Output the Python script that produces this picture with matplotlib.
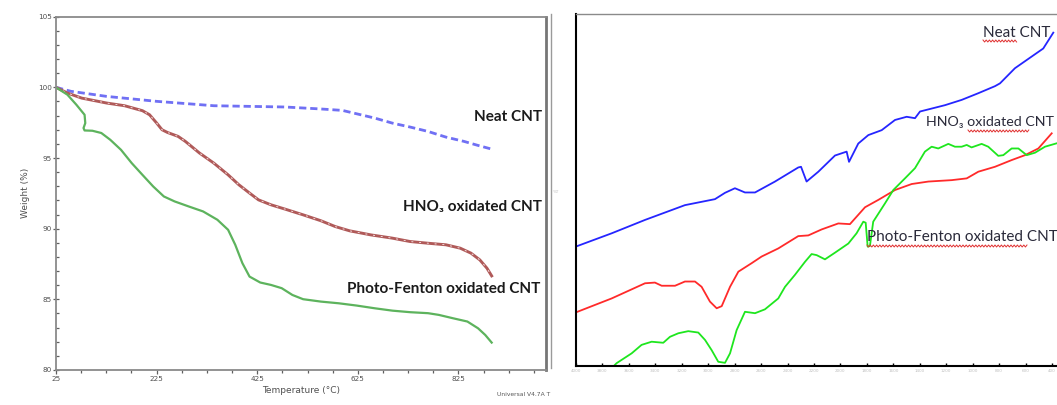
import numpy as np
import matplotlib
matplotlib.use("Agg")
import matplotlib.pyplot as plt
from matplotlib.lines import Line2D
from matplotlib.ticker import FixedLocator, MultipleLocator

# ── Left panel: TGA (weight % vs temperature) ────────────────────────────
neat_T = [25.0, 54.8, 125.8, 225.2, 338.7, 480.7, 551.7, 594.3, 622.6, 658.1,
          693.6, 729.1, 764.6, 800.1, 835.6, 864.0, 891.0]
neat_W = [100.0, 99.72, 99.36, 99.01, 98.70, 98.61, 98.47, 98.37, 98.13, 97.83,
          97.47, 97.19, 96.88, 96.48, 96.18, 95.89, 95.63]

hno3_T = [25.0, 47.7, 76.1, 125.8, 161.3, 196.8, 211.0, 225.2, 235.8, 246.5,
          267.7, 282.0, 310.3, 338.7, 367.1, 388.4, 409.7, 427.5, 452.3, 480.7,
          516.2, 551.7, 580.1, 608.5, 651.0, 693.6, 729.1, 764.6, 800.1, 828.5,
          849.8, 867.5, 881.7, 891.0]
hno3_W = [100.0, 99.60, 99.24, 98.89, 98.70, 98.35, 98.06, 97.47, 97.00, 96.81,
          96.53, 96.18, 95.35, 94.64, 93.81, 93.11, 92.52, 92.04, 91.69, 91.38,
          90.98, 90.56, 90.15, 89.85, 89.56, 89.33, 89.09, 88.97, 88.86, 88.62,
          88.27, 87.79, 87.20, 86.66]

pf_T = [25.0, 47.7, 65.5, 81.8, 83.2, 79.7, 81.8, 97.4, 115.1, 132.9, 154.2,
        175.5, 196.8, 218.1, 239.4, 260.7, 289.0, 317.4, 345.8, 367.1, 381.3,
        395.5, 409.7, 431.0, 452.3, 473.6, 494.9, 516.2, 551.7, 587.2, 622.6,
        658.1, 693.6, 729.1, 764.6, 785.9, 814.3, 842.7, 864.0, 878.2, 891.0]
pf_W = [100.0, 99.48, 98.77, 98.06, 97.47, 97.12, 96.95, 96.93, 96.77, 96.29,
        95.58, 94.64, 93.81, 92.99, 92.28, 91.93, 91.57, 91.22, 90.63, 89.92,
        88.86, 87.56, 86.61, 86.19, 86.02, 85.79, 85.31, 85.01, 84.84, 84.72,
        84.56, 84.37, 84.20, 84.09, 84.02, 83.90, 83.66, 83.43, 82.95, 82.48,
        81.94]

temp_ticks = [25, 225, 425, 625, 825]
weight_ticks = [80, 85, 90, 95, 100, 105]

# ── Right panel: FTIR (%T vs wavenumber, arbitrary offsets) ──────────────
ir_neat_wn = [4003, 3730, 3478, 3176, 2949, 2873, 2798, 2722, 2646, 2495, 2319,
              2298, 2256, 2167, 2041, 1953, 1935, 1865, 1789, 1688, 1587, 1499,
              1436, 1398, 1209, 1083, 957, 831, 793, 680, 554, 466, 390]
ir_neat_t = [33.9, 37.7, 41.5, 45.7, 47.4, 49.2, 50.5, 49.3, 49.3, 52.4, 56.4,
             56.6, 52.4, 55.2, 59.8, 60.9, 58.0, 63.2, 65.6, 67.0, 69.9, 70.8,
             70.4, 72.3, 74.1, 75.6, 77.5, 79.5, 80.3, 84.6, 87.9, 90.2, 94.7]

ir_hno3_wn = [4003, 3730, 3478, 3403, 3352, 3251, 3176, 3100, 3050, 2987, 2936,
              2898, 2835, 2772, 2672, 2596, 2470, 2319, 2243, 2142, 2016, 1928,
              1814, 1713, 1587, 1461, 1335, 1159, 1045, 957, 831, 705, 604, 503,
              402]
ir_hno3_t = [15.2, 19.2, 23.5, 23.7, 22.8, 22.8, 24.0, 24.0, 22.5, 18.3, 16.4,
             17.0, 22.5, 26.8, 29.2, 31.1, 33.4, 36.9, 37.1, 38.8, 40.5, 40.3,
             45.1, 47.2, 50.0, 51.7, 52.4, 52.8, 53.3, 55.2, 56.6, 58.5, 59.9,
             61.8, 66.1]

ir_pf_wn = [3743, 3693, 3579, 3504, 3428, 3340, 3289, 3226, 3151, 3075, 3024,
            2974, 2924, 2873, 2835, 2785, 2722, 2646, 2571, 2470, 2419, 2344,
            2268, 2218, 2180, 2117, 2041, 1940, 1878, 1827, 1809, 1794, 1777,
            1752, 1663, 1600, 1512, 1436, 1361, 1310, 1260, 1184, 1134, 1083,
            1045, 1008, 932, 882, 806, 768, 705, 654, 591, 528, 453, 352]
ir_pf_t = [-1.1, 0.8, 3.6, 6.0, 6.9, 6.6, 8.3, 9.3, 9.9, 9.5, 7.4, 4.5, 1.2,
           0.9, 3.6, 10.2, 15.4, 15.0, 16.1, 19.2, 22.5, 25.9, 29.6, 31.8, 31.5,
           30.3, 32.2, 34.8, 37.7, 41.0, 40.7, 33.9, 34.1, 41.0, 46.2, 50.0,
           53.3, 56.2, 60.9, 62.3, 61.8, 63.1, 62.3, 62.3, 62.8, 62.1, 63.1,
           62.3, 59.7, 59.9, 61.8, 61.8, 59.9, 60.6, 62.3, 63.4]

wn_ticks = list(range(4000, 399, -200))

W, H = 1057, 405


def frac(x, y):
    """pixel (from top-left) -> figure fraction"""
    return x / W, 1 - y / H


def wavy(fig, x0, x1, y):
    xs = np.arange(x0, x1, 1.6)
    ys = y + 1.0 * np.where(np.arange(len(xs)) % 2 == 0, -1, 1)
    fig.add_artist(Line2D(xs / W, 1 - ys / H, transform=fig.transFigure,
                          color="#e03030", lw=0.7))


fig = plt.figure(figsize=(W / 100, H / 100), dpi=100)
lab_font = ["Lato", "DejaVu Sans"]

# ── left axes ────────────────────────────────────────────────────────────
ax = fig.add_axes([56 / W, (H - 370) / H, (546 - 56) / W, (370 - 16.7) / H])
ax.plot(neat_T, neat_W, color="#7070f4", lw=2.0, ls=(0, (2.6, 1.4)))
ax.plot(hno3_T, hno3_W, color="#b05a59", lw=2.1)
ax.plot(hno3_T, hno3_W, color="#f0dada", lw=0.7, ls=(0, (2, 6)))
ax.plot(pf_T, pf_W, color="#5db35d", lw=1.6)
ax.set_xlim(25, 999)
ax.set_ylim(80, 105)
ax.xaxis.set_major_locator(FixedLocator(temp_ticks))
ax.xaxis.set_minor_locator(MultipleLocator(50, offset=25))
ax.yaxis.set_major_locator(FixedLocator(weight_ticks))
ax.yaxis.set_minor_locator(MultipleLocator(1))
ax.tick_params(axis="both", which="both", colors="#606060", labelsize=5.2,
               labelcolor="#505050", width=0.9)
ax.tick_params(axis="y", which="major", direction="inout", length=4, pad=1)
ax.tick_params(axis="y", which="minor", direction="in", length=2)
ax.tick_params(axis="x", which="major", direction="out", length=3, pad=1.5)
ax.tick_params(axis="x", which="minor", direction="out", length=2)
for s in ax.spines.values():
    s.set_color("#8a8a8a")
    s.set_linewidth(1.3)
ax.spines["right"].set_linewidth(2.0)
ax.spines["right"].set_color("#767676")
ax.set_xlabel("Temperature (°C)", fontsize=6.5, color="#505050", labelpad=3)
ax.set_ylabel("Weight (%)", fontsize=6.5, color="#505050", labelpad=6)

ax.text(992, 97.9, "Neat CNT", ha="right", va="center", fontsize=11,
        family=lab_font, weight="bold", color="#1a1a1a")
ax.text(992, 91.5, "HNO\u2083 oxidated CNT", ha="right", va="center",
        fontsize=11, family=lab_font, weight="bold", color="#1a1a1a")
ax.text(988, 85.7, "Photo-Fenton oxidated CNT", ha="right", va="center",
        fontsize=11, family=lab_font, weight="bold", color="#1a1a1a")
fig.text(*frac(550, 395), "Universal V4.7A T", ha="right", va="center",
         fontsize=4.3, color="#555555")

# ── right axes ───────────────────────────────────────────────────────────
ax2 = fig.add_axes([576 / W, (H - 366) / H, (W - 576) / W, (366 - 14) / H])
ax2.plot(ir_neat_wn, ir_neat_t, color="#2525ff", lw=1.3)
ax2.plot(ir_hno3_wn, ir_hno3_t, color="#ff2a2a", lw=1.3)
ax2.plot(ir_pf_wn, ir_pf_t, color="#1ee61e", lw=1.3)
ax2.set_xlim(4000, 362)
ax2.set_ylim(0, 100)
ax2.set_xticks(wn_ticks)
ax2.set_xticklabels([f"{v}" for v in wn_ticks], fontsize=3, color="#c0c0c0")
ax2.tick_params(axis="x", direction="in", length=2.5, width=1, pad=2)
ax2.set_yticks([])
ax2.spines["left"].set_color("black")
ax2.spines["left"].set_linewidth(1.5)
ax2.spines["bottom"].set_color("black")
ax2.spines["bottom"].set_linewidth(1.5)
ax2.spines["top"].set_color("#8a8a8a")
ax2.spines["top"].set_linewidth(1.0)
ax2.spines["right"].set_visible(False)

txt_col = "#2a2a3a"
ax2.text(923, 94.6, "Neat CNT", ha="left", va="center", fontsize=11,
         family=lab_font, color=txt_col)
ax2.text(1354, 69.3, "HNO\u2083 oxidated CNT", ha="left", va="center",
         fontsize=10.3, family=lab_font, color=txt_col)
ax2.text(1800, 36.6, "Photo-Fenton oxidated CNT", ha="left", va="center",
         fontsize=11, family=lab_font, color=txt_col)
fig.text(*frac(553, 192), "%T", fontsize=3, color="#c0c0c0", va="center")

# panel border and spell-check underlines
fig.add_artist(Line2D([551 / W, 551 / W], [1 - 14 / H, 1 - 368 / H],
                      transform=fig.transFigure, color="#9a9a9a", lw=1.0))
wavy(fig, 983, 1018, 41)
wavy(fig, 968, 1030, 131)
wavy(fig, 867, 1028, 246)

fig.savefig("out.png", dpi=100)
